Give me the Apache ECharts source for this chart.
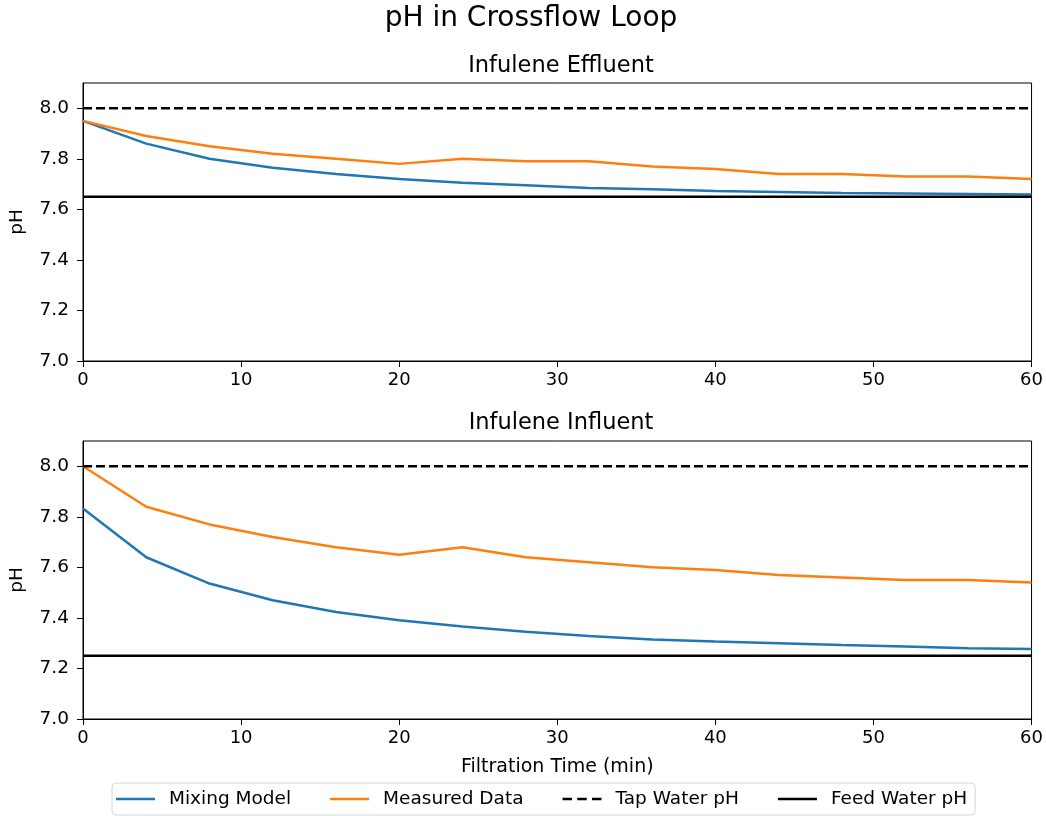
<!DOCTYPE html>
<html>
<head>
<meta charset="utf-8">
<script src="https://cdn.jsdelivr.net/npm/echarts@6/dist/echarts.min.js"></script>
<style>
html,body{margin:0;padding:0;background:#fff;}
#chart{width:1046px;height:816px;}
</style>
</head>
<body>
<div id="chart"></div>
<script>
const time = [0, 4, 8, 12, 16, 20, 24, 28, 32, 36, 40, 44, 48, 52, 56, 60];
const effluentMixing = [7.95, 7.86, 7.80, 7.765, 7.74, 7.72, 7.705, 7.695, 7.685, 7.68, 7.673, 7.669, 7.665, 7.663, 7.661, 7.659];
const effluentMeasured = [7.95, 7.89, 7.85, 7.82, 7.80, 7.78, 7.80, 7.79, 7.79, 7.77, 7.76, 7.74, 7.74, 7.73, 7.73, 7.72];
const influentMixing = [7.833, 7.64, 7.536, 7.47, 7.423, 7.391, 7.366, 7.345, 7.328, 7.315, 7.307, 7.30, 7.293, 7.287, 7.28, 7.277];
const influentMeasured = [8.00, 7.84, 7.77, 7.72, 7.68, 7.65, 7.68, 7.64, 7.62, 7.60, 7.59, 7.57, 7.56, 7.55, 7.55, 7.54];
const tapWaterPH = 8.0;
const feedWaterPHEffluent = 7.65;
const feedWaterPHInfluent = 7.25;
const seriesNames = ['Mixing Model', 'Measured Data', 'Tap Water pH', 'Feed Water pH'];
const panelTitles = ['Infulene Effluent', 'Infulene Influent'];
const mainTitle = 'pH in Crossflow Loop';
const xLabel = 'Filtration Time (min)';
const yLabel = 'pH';

const FONT = 'DejaVu Sans';
const pair = (xs, ys) => xs.map((x, i) => [x, ys[i]]);
const hline = (v) => [[time[0], v], [time[time.length - 1], v]];

const gridTops = [83, 441];
const gridH = 278;

function xAxis(i) {
  return {
    gridIndex: i, type: 'value', min: 0, max: 60, interval: 10,
    axisLine: {show: true, lineStyle: {color: '#000', width: 1}},
    axisTick: {show: true, length: 6, lineStyle: {color: '#000', width: 1}},
    axisLabel: {color: '#000', fontFamily: FONT, fontSize: 18, margin: 10},
    splitLine: {show: false},
    name: i === 1 ? xLabel : '',
    nameLocation: 'middle', nameGap: 39,
    nameTextStyle: {color: '#000', fontFamily: FONT, fontSize: 19}
  };
}
function yAxis(i) {
  return {
    gridIndex: i, type: 'value', min: 7.0, max: 8.1, interval: 0.2,
    axisLine: {show: true, lineStyle: {color: '#000', width: 1}},
    axisTick: {show: true, length: 6, lineStyle: {color: '#000', width: 1}},
    axisLabel: {color: '#000', fontFamily: FONT, fontSize: 18.5, margin: 14, showMaxLabel: false,
      formatter: v => v.toFixed(1)},
    splitLine: {show: false},
    name: yLabel, nameLocation: 'middle', nameGap: 56, nameRotate: 90,
    nameTextStyle: {color: '#000', fontFamily: FONT, fontSize: 18.5}
  };
}
function panelSeries(i, mixing, measured, feed) {
  const base = {type: 'line', xAxisIndex: i, yAxisIndex: i, symbol: 'none', showSymbol: false, animation: false};
  return [
    Object.assign({}, base, {name: seriesNames[0], data: pair(time, mixing), color: '#1f77b4', lineStyle: {color: '#1f77b4', width: 2.5}}),
    Object.assign({}, base, {name: seriesNames[1], data: pair(time, measured), color: '#ff7f0e', lineStyle: {color: '#ff7f0e', width: 2.5}}),
    Object.assign({}, base, {name: seriesNames[2], data: hline(tapWaterPH), color: '#000', lineStyle: {color: '#000', width: 2.5, type: [9, 4]}}),
    Object.assign({}, base, {name: seriesNames[3], data: hline(feed), color: '#000', lineStyle: {color: '#000', width: 2.5}})
  ];
}

const solidIcon = 'path://M0,0h37v1h-37z';
const dashIcon = 'path://M0,0h9v1h-9zM14,0h9v1h-9zM28,0h9v1h-9z';

const chart = echarts.init(document.getElementById('chart'), null, {renderer: 'canvas'});
chart.setOption({
  animation: false,
  backgroundColor: '#fff',
  title: [
    {text: mainTitle, left: 526, textAlign: 'center', top: 0, textStyle: {fontFamily: FONT, fontSize: 28, fontWeight: 'normal', color: '#000'}},
    {text: panelTitles[0], left: 556, textAlign: 'center', top: 50, textStyle: {fontFamily: FONT, fontSize: 22.5, fontWeight: 'normal', color: '#000'}},
    {text: panelTitles[1], left: 556, textAlign: 'center', top: 407, textStyle: {fontFamily: FONT, fontSize: 22.5, fontWeight: 'normal', color: '#000'}}
  ],
  grid: gridTops.map(t => ({left: 79, right: 13, top: t, height: gridH, show: true, borderColor: '#000', borderWidth: 1, backgroundColor: 'transparent'})),
  xAxis: [xAxis(0), xAxis(1)],
  yAxis: [yAxis(0), yAxis(1)],
  legend: {
    data: [
      {name: seriesNames[0], icon: solidIcon},
      {name: seriesNames[1], icon: solidIcon},
      {name: seriesNames[2], icon: dashIcon},
      {name: seriesNames[3], icon: solidIcon}
    ],
    left: 112, top: 783,
    orient: 'horizontal',
    itemWidth: 39, itemHeight: 2.5, itemGap: 39,
    symbolKeepAspect: false,
    padding: [6, 8, 6, 4],
    borderColor: '#d6d6d6', borderWidth: 1, borderRadius: 4,
    textStyle: {fontFamily: FONT, fontSize: 18.5, color: '#000', padding: [0, 0, 0, 9], lineHeight: 20}
  },
  series: [].concat(
    panelSeries(0, effluentMixing, effluentMeasured, feedWaterPHEffluent),
    panelSeries(1, influentMixing, influentMeasured, feedWaterPHInfluent)
  )
});
</script>
</body>
</html>
